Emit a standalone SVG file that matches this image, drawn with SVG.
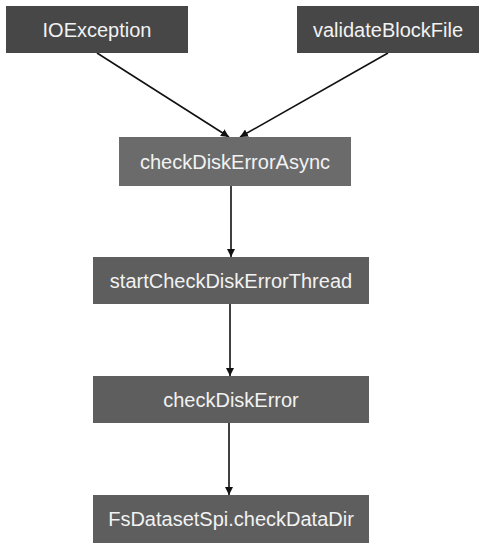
<svg xmlns="http://www.w3.org/2000/svg" width="487" height="548" viewBox="0 0 487 548">
<defs>
<style>
.lbl{font-family:"Liberation Sans",Arial,Helvetica,sans-serif;font-size:20px;fill:#f2f2f2;text-anchor:middle}
.top{fill:#474747}
.mid{fill:#6b6b6b}
.box{fill:#5e5e5e}
.edge{stroke:#111;stroke-width:1.6;fill:none}
</style>
<marker id="arr" viewBox="0 0 10 10" refX="10" refY="5" markerWidth="8" markerHeight="8" markerUnits="userSpaceOnUse" orient="auto">
<path d="M0,0 L10,5 L0,10 z" fill="#111"/>
</marker>
</defs>
<rect width="487" height="548" fill="#ffffff"/>
<g id="connectors">
<line class="edge" x1="97" y1="53" x2="229" y2="137" marker-end="url(#arr)"/>
<line class="edge" x1="388" y1="53" x2="240" y2="137" marker-end="url(#arr)"/>
<line class="edge" x1="231" y1="186" x2="231" y2="257" marker-end="url(#arr)"/>
<line class="edge" x1="230" y1="304" x2="230" y2="376" marker-end="url(#arr)"/>
<line class="edge" x1="229" y1="423" x2="229" y2="495" marker-end="url(#arr)"/>
</g>
<g id="ioexception">
<rect class="top" x="6" y="6" width="182" height="47"/>
<text class="lbl" x="97" y="36.5">IOException</text>
</g>
<g id="validateBlockFile">
<rect class="top" x="297" y="6" width="182" height="47"/>
<text class="lbl" x="388" y="36.5">validateBlockFile</text>
</g>
<g id="checkDiskErrorAsync">
<rect class="mid" x="119" y="137" width="232" height="49"/>
<text class="lbl" x="235" y="168.5">checkDiskErrorAsync</text>
</g>
<g id="startCheckDiskErrorThread">
<rect class="box" x="93" y="257" width="276" height="47"/>
<text class="lbl" x="231" y="287.5">startCheckDiskErrorThread</text>
</g>
<g id="checkDiskError">
<rect class="box" x="93" y="376" width="276" height="47"/>
<text class="lbl" x="231" y="406.5">checkDiskError</text>
</g>
<g id="checkDataDir">
<rect class="box" x="93" y="495" width="276" height="48"/>
<text class="lbl" x="231" y="526">FsDatasetSpi.checkDataDir</text>
</g>
</svg>
